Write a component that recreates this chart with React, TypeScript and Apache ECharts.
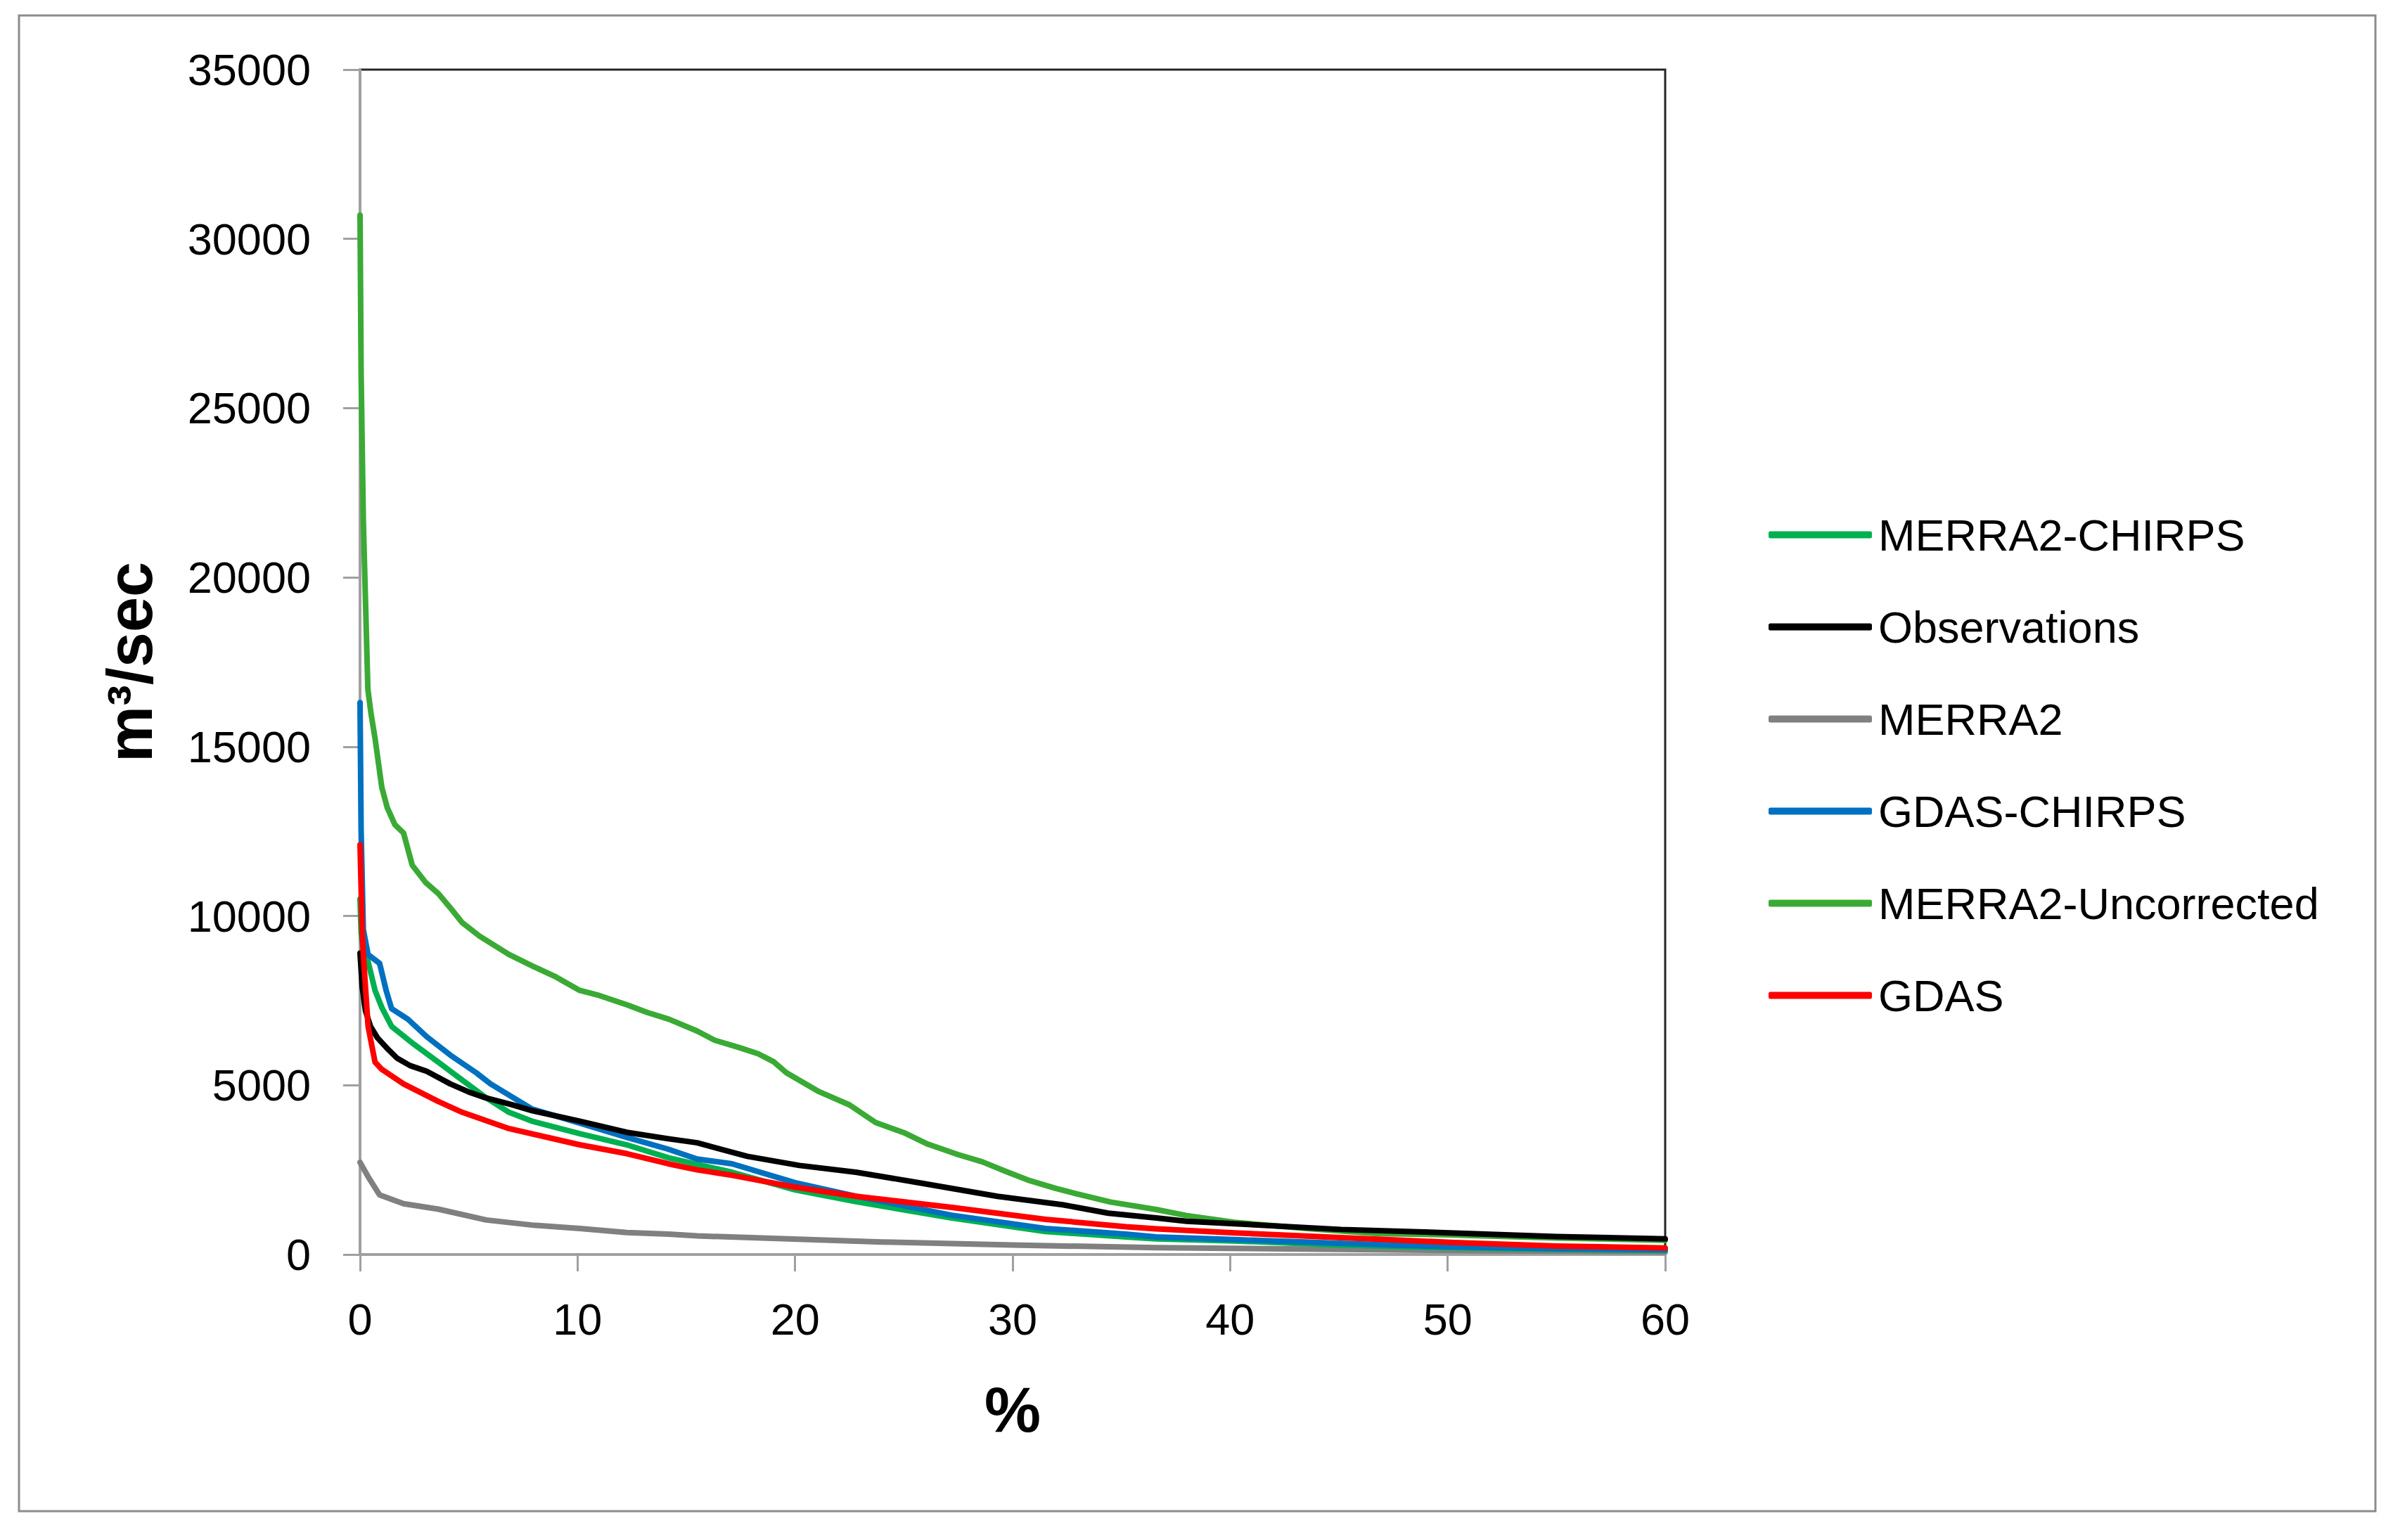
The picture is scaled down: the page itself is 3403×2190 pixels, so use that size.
import React, { useEffect, useRef } from "react";
import * as echarts from "echarts";

// ---- data (x = % exceedance, y = m³/sec) ----
const merra2ChirpsX = [0, 0.05, 0.15, 0.37, 0.69, 1.0, 1.45, 2.5, 3.6, 4.7, 5.8, 6.85, 7.9, 10.1, 12.26, 14.17, 15.5, 17.1, 20, 22.8, 27.2, 31.5, 35.2, 36.6, 40.2, 45, 50, 55, 60];
const merra2ChirpsY = [10500, 9500, 9000, 8650, 7800, 7300, 6740, 6200, 5680, 5150, 4630, 4200, 3940, 3570, 3240, 2860, 2660, 2430, 1910, 1560, 1080, 680, 520, 460, 400, 280, 200, 150, 120];

const observationsX = [0, 0.1, 0.25, 0.48, 0.8, 1.23, 1.7, 2.3, 3.07, 4.15, 5.0, 5.77, 7.0, 7.9, 10.1, 12.26, 14.17, 15.5, 17.8, 20.2, 22.8, 25.7, 29.3, 32.3, 34.4, 36.6, 38, 40.2, 45.1, 50.1, 55, 60];
const observationsY = [8900, 7900, 7200, 6740, 6400, 6100, 5800, 5580, 5410, 5040, 4800, 4630, 4420, 4250, 3940, 3610, 3420, 3300, 2900, 2630, 2430, 2120, 1720, 1470, 1220, 1080, 980, 910, 740, 640, 530, 460];

const merra2X = [0, 0.37, 0.9, 2.0, 3.6, 5.8, 7.9, 10.1, 12.26, 14.17, 15.5, 24, 30, 36.6, 40, 50, 60];
const merra2Y = [2720, 2300, 1760, 1500, 1340, 1020, 870, 770, 650, 600, 550, 370, 280, 200, 180, 120, 80];

const gdasChirpsX = [0, 0.05, 0.15, 0.37, 0.9, 1.2, 1.45, 2.2, 3.07, 4.15, 5.34, 6.0, 7.0, 7.9, 10.1, 12.26, 14.17, 15.5, 17.1, 20.0, 22.8, 27.2, 31.5, 35.2, 36.6, 40.2, 45, 50, 55, 60];
const gdasChirpsY = [16300, 12500, 9600, 8860, 8600, 7800, 7260, 6950, 6430, 5890, 5370, 5040, 4650, 4300, 3880, 3460, 3110, 2820, 2680, 2120, 1720, 1160, 770, 600, 520, 440, 330, 230, 170, 140];

const merra2UncorrX = [0, 0.05, 0.15, 0.36, 0.5, 0.7, 1.0, 1.25, 1.6, 2.0, 2.4, 3.0, 3.6, 4.2, 4.7, 5.5, 6.85, 8.0, 9.0, 10.1, 11.0, 12.3, 13.2, 14.2, 15.5, 16.3, 17.5, 18.3, 19.0, 19.6, 21.1, 22.5, 23.7, 25.0, 26.1, 27.5, 28.6, 29.7, 30.7, 32.0, 32.9, 34.5, 36.6, 38, 40.2, 43.5, 46.8, 50, 55, 60];
const merra2UncorrY = [30700, 26000, 21700, 16700, 16000, 15200, 13800, 13200, 12700, 12450, 11500, 11000, 10660, 10200, 9800, 9400, 8860, 8500, 8200, 7800, 7650, 7370, 7150, 6950, 6600, 6330, 6100, 5930, 5700, 5370, 4810, 4420, 3900, 3600, 3260, 2950, 2740, 2450, 2200, 1950, 1800, 1550, 1330, 1150, 950, 770, 620, 580, 490, 420];

const gdasX = [0, 0.1, 0.15, 0.37, 0.69, 1.0, 2.0, 3.6, 4.7, 6.85, 10.1, 12.26, 14.17, 15.5, 17.1, 20, 22.8, 27.2, 31.5, 35.2, 36.6, 40.2, 45.1, 50.1, 55, 60];
const gdasY = [12100, 9500, 8860, 6740, 5680, 5470, 5040, 4520, 4200, 3720, 3240, 2980, 2680, 2500, 2340, 1990, 1720, 1390, 1040, 820, 760, 640, 500, 360, 250, 190];

const legendOrder = ["MERRA2-CHIRPS", "Observations", "MERRA2", "GDAS-CHIRPS", "MERRA2-Uncorrected", "GDAS"];
const xTicks = { min: 0, max: 60, interval: 10 };
const yTicks = { min: 0, max: 35000, interval: 5000 };

const pairs = (xs: number[], ys: number[]) => xs.map((x, i) => [x, ys[i]]);

const FONT = "'Liberation Sans', Arial, sans-serif";

export default function App() {
  const ref = useRef<HTMLDivElement>(null);
  useEffect(() => {
    if (!ref.current) return;
    const chart = echarts.init(ref.current, undefined, { renderer: "svg" });
    const line = (name: string, color: string, data: number[][]) => ({
      name,
      type: "line",
      data,
      showSymbol: false,
      symbol: "none",
      lineStyle: { color, width: 8, cap: "round", join: "round" },
      itemStyle: { color },
      z: 3,
    });
    chart.setOption({
      animation: false,
      backgroundColor: "#ffffff",
      textStyle: { fontFamily: FONT },
      graphic: [
        {
          type: "rect",
          shape: { x: 27, y: 22, width: 3351, height: 2127 },
          style: { fill: "none", stroke: "#8c8c8c", lineWidth: 3 },
          silent: true,
        },
      ],
      grid: {
        left: 512,
        top: 99,
        width: 1856,
        height: 1685,
        show: true,
        borderColor: "#262626",
        borderWidth: 3,
        backgroundColor: "transparent",
      },
      legend: {
        data: legendOrder,
        orient: "vertical",
        left: 2510,
        top: 724,
        itemGap: 68,
        itemWidth: 147,
        itemHeight: 10,
        icon: "roundRect",
        textStyle: { fontSize: 63, lineHeight: 62, color: "#000", fontFamily: FONT, padding: [0, 0, 0, 4] },
      },
      xAxis: {
        type: "value",
        min: xTicks.min,
        max: xTicks.max,
        interval: xTicks.interval,
        name: "%",
        nameLocation: "middle",
        nameGap: 176,
        nameTextStyle: { fontSize: 90, fontWeight: "bold", color: "#000", fontFamily: FONT },
        axisLine: { show: true, onZero: false, lineStyle: { color: "#a0a0a0", width: 4 } },
        axisTick: { show: true, inside: false, length: 24, lineStyle: { color: "#a0a0a0", width: 3 } },
        axisLabel: { fontSize: 63, color: "#000", margin: 60, fontFamily: FONT },
        splitLine: { show: false },
      },
      yAxis: {
        type: "value",
        min: yTicks.min,
        max: yTicks.max,
        interval: yTicks.interval,
        name: "m³/sec",
        nameLocation: "middle",
        nameGap: 282,
        nameRotate: 90,
        nameTextStyle: { fontSize: 90, fontWeight: "bold", color: "#000", fontFamily: FONT },
        axisLine: { show: true, lineStyle: { color: "#a0a0a0", width: 4 } },
        axisTick: { show: true, inside: false, length: 24, lineStyle: { color: "#a0a0a0", width: 3 } },
        axisLabel: {
          fontSize: 63,
          color: "#000",
          margin: 70,
          fontFamily: FONT,
          formatter: (v: number) => String(v),
        },
        splitLine: { show: false },
      },
      series: [
        line("MERRA2", "#808080", pairs(merra2X, merra2Y)),
        line("MERRA2-Uncorrected", "#3aaa35", pairs(merra2UncorrX, merra2UncorrY)),
        line("MERRA2-CHIRPS", "#00b050", pairs(merra2ChirpsX, merra2ChirpsY)),
        line("GDAS-CHIRPS", "#0070c0", pairs(gdasChirpsX, gdasChirpsY)),
        line("Observations", "#000000", pairs(observationsX, observationsY)),
        line("GDAS", "#ff0000", pairs(gdasX, gdasY)),
      ],
    });
    return () => chart.dispose();
  }, []);
  return (
    <div
      ref={ref}
      style={{ position: "fixed", left: 0, top: 0, width: 3403, height: 2190, background: "#fff" }}
    />
  );
}
